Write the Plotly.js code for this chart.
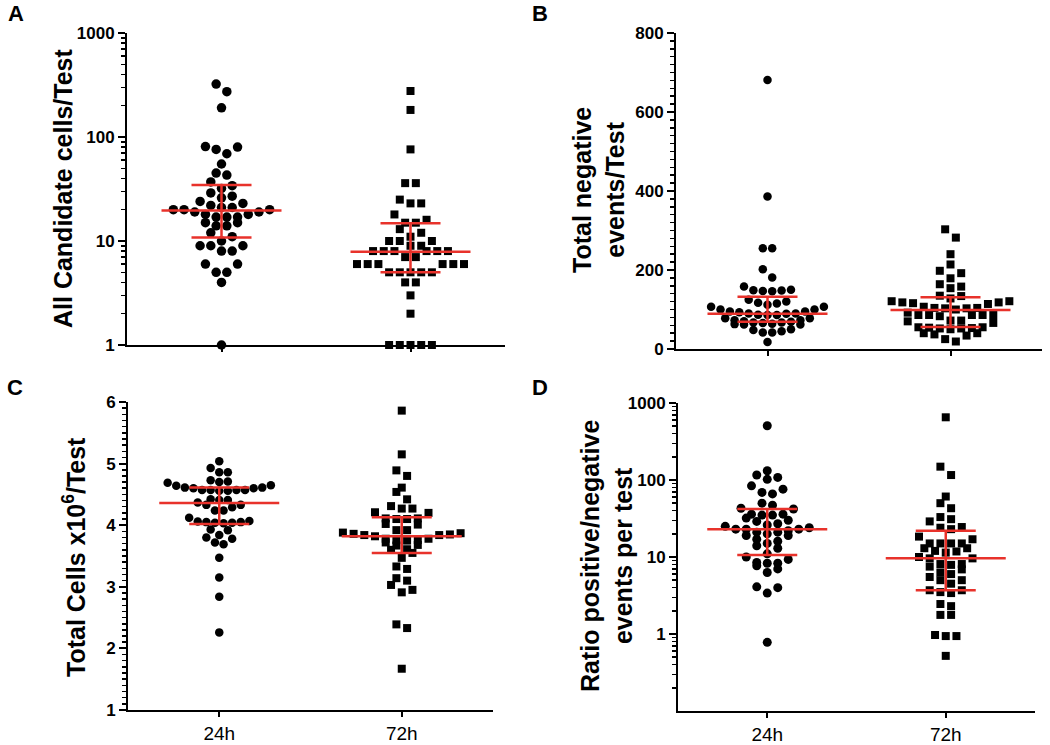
<!DOCTYPE html>
<html>
<head>
<meta charset="utf-8">
<script src="https://cdn.plot.ly/plotly-3.0.1.min.js"></script>
<style>
  body { margin: 0; background: #fff; }
  #chart { width: 1050px; height: 745px; }
</style>
</head>
<body>
<div id="chart"></div>
<script>
// groups on the x axis
const groups = ['24h', '72h']

// A: all candidate cells per test (log axis)
const candidates24 = [323, 273, 191, 81, 76, 80, 69, 55, 45, 43, 37, 32, 34, 29, 27, 26, 24, 23, 21, 20, 20, 20, 21, 22,
  19, 19, 18, 18, 17, 17, 17, 15, 15, 14, 14, 12, 11, 10, 9, 9, 9, 8, 8, 6, 6, 5, 5, 4, 1]
const candidates72 = [277, 182, 76, 36, 36, 25, 23, 23, 18, 16, 15, 15, 13, 12, 11, 10, 10, 10, 9, 9,
  8, 8, 8, 8, 8, 8, 7, 7, 6, 6, 6, 6, 6, 6, 5, 5, 5, 5, 5, 4, 4, 3, 2, 1, 1, 1, 1, 1]
const candidatesMedian = [19.7, 7.9]
const candidatesQ1 = [10.8, 5.0]
const candidatesQ3 = [34.5, 14.8]

// B: total negative events per test
const negative24 = [681, 386, 255, 255, 202, 181, 158, 150, 148, 147, 149, 146, 125, 120, 117, 112, 115,
  107, 100, 95, 90, 87, 86, 86, 90, 89, 93, 95, 100, 107, 78, 73, 70, 67, 64, 62, 62, 63, 66, 67, 69, 73, 78,
  50, 48, 45, 42, 42, 18]
const negative72 = [303, 282, 240, 214, 198, 192, 179, 164, 154, 158, 134, 135, 121, 118, 116, 114, 118, 121, 128,
  104, 103, 100, 103, 104, 107, 86, 86, 83, 86, 86, 86, 92, 72, 66, 70, 72, 54, 52, 50, 52, 53, 55, 55,
  40, 34, 37, 40, 19, 25]
const negativeMedian = [89, 99]
const negativeQ1 = [69, 56]
const negativeQ3 = [132, 131]

// C: total cells x10^6 per test
const cells24 = [5.04, 4.93, 4.86, 4.86, 4.73, 4.70, 4.69, 4.64, 4.61, 4.60, 4.57, 4.57, 4.56, 4.56, 4.57, 4.57,
  4.60, 4.61, 4.65, 4.71, 4.41, 4.41, 4.42, 4.37, 4.33, 4.33, 4.29, 4.24, 4.24, 4.12, 4.06, 4.05, 4.04, 4.03,
  4.04, 4.05, 4.07, 3.93, 3.92, 3.84, 3.78, 3.80, 3.72, 3.69, 3.47, 3.15, 2.84, 2.26]
const cells72 = [5.86, 5.15, 4.89, 4.80, 4.61, 4.54, 4.42, 4.27, 4.27, 4.31, 4.21, 4.20, 4.11, 4.10, 4.10, 4.11,
  4.02, 4.01, 3.92, 3.92, 3.88, 3.84, 3.82, 3.85, 3.86, 3.87, 3.78, 3.76, 3.75, 3.76, 3.78, 3.68, 3.67, 3.61,
  3.60, 3.55, 3.47, 3.33, 3.29, 3.14, 3.03, 3.10, 2.91, 2.95, 2.39, 2.33, 1.67, 3.84, 3.72]
const cellsMedian = [4.36, 3.82]
const cellsQ1 = [4.02, 3.55]
const cellsQ3 = [4.61, 4.13]

// D: ratio positive/negative events per test (log axis)
const ratio24 = [507, 132, 108, 102, 116, 84, 76, 66, 69, 50, 47, 43, 42, 36, 35, 35, 36, 32, 29, 30, 27, 25, 23,
  23, 21, 20, 22, 21, 23, 24, 26, 19, 19, 17, 16, 15, 13, 14, 11, 10, 9.3, 8.3, 8.3, 8.5, 7.7, 7, 6.3, 4.0, 4.1,
  3.4, 0.78]
const ratio72 = [652, 149, 116, 61, 50, 43, 33, 31, 29, 24.5, 23, 24, 18.4, 17, 15, 15, 15, 15, 13, 13, 11.4,
  11.8, 10, 9.6, 8.1, 7.9, 8.1, 6.9, 6.3, 6.0, 5.5, 5.0, 5.0, 4.5, 3.7, 3.7, 3.4, 3.5, 2.45, 2.3, 1.77, 1.77,
  0.94, 0.94, 0.97, 0.52, 9.6, 7.5, 12]
const ratioMedian = [22.9, 9.6]
const ratioQ1 = [10.6, 3.7]
const ratioQ3 = [42, 22]


const W = 1050
const H = 745
const FONT = 'Liberation Sans, Arial, sans-serif'
const RED = '#e8322b'

const panels = [
  { letter: 'A', box: [127, 505, 33, 345], log: true, range: [0, 3],
    series: [candidates24, candidates72], med: candidatesMedian, q1: candidatesQ1, q3: candidatesQ3,
    size: [9.5, 8], gap: [10.7, 10.7], labels: false,
    tickvals: [1, 10, 100, 1000] },
  { letter: 'B', box: [676, 1042, 33, 349], log: false, range: [0, 800],
    series: [negative24, negative72], med: negativeMedian, q1: negativeQ1, q3: negativeQ3,
    size: [8.5, 8], gap: [9.4, 10.7], labels: false, dtick: 200, minor: 20 },
  { letter: 'C', box: [128, 493, 402, 710], log: false, range: [1, 6],
    series: [cells24, cells72], med: cellsMedian, q1: cellsQ1, q3: cellsQ3,
    size: [8.5, 8], gap: [8.6, 10.7], labels: true, dtick: 1, minor: 0.1 },
  { letter: 'D', box: [678, 1035, 403, 711], log: true, range: [-1, 3],
    series: [ratio24, ratio72], med: ratioMedian, q1: ratioQ1, q3: ratioQ3,
    size: [9, 8], gap: [10.5, 10.7], labels: true,
    tickvals: [1, 10, 100, 1000] },
]

// prism-like dot arrangement: points close in value share a row, centred on the group
const swarm = (vals, toPx, gapPx, binPx, pxPerUnit) => {
  const order = vals.map((v, i) => i).sort((a, b) => toPx(vals[a]) - toPx(vals[b]))
  const off = new Array(vals.length).fill(0)
  let bin = []
  let start = 0
  const flush = () => {
    const n = bin.length
    const slots = []
    for (let k = 0; k < n; k++) slots.push(k - (n - 1) / 2)
    slots.sort((a, b) => Math.abs(a) - Math.abs(b) || b - a)
    bin.sort((a, b) => vals[a] - vals[b])
    bin.forEach((id, j) => { off[id] = slots[j] * gapPx / pxPerUnit })
    bin = []
  }
  order.forEach(id => {
    const p = toPx(vals[id])
    if (bin.length && p - start > binPx) flush()
    if (!bin.length) start = p
    bin.push(id)
  })
  flush()
  return off
}

const data = []
const layout = {
  width: W,
  height: H,
  margin: { l: 0, r: 0, t: 0, b: 0 },
  paper_bgcolor: '#fff',
  plot_bgcolor: '#fff',
  showlegend: false,
  annotations: [],
}

const titles = [
  'All Candidate cells/Test',
  'Total negative<br>events/Test',
  'Total Cells x10<sup>6</sup>/Test',
  'Ratio positive/negative<br>events per test',
]
const titlePos = [[63, 189], [598, 190], [74, 557], [606, 556]]
const letterPos = [[16, 14], [540, 14], [15, 388], [540, 388]]

panels.forEach((p, i) => {
  const n = i + 1
  const sfx = n === 1 ? '' : String(n)
  const [x0, x1, y0, y1] = p.box
  const plotW = x1 - x0
  const plotH = y1 - y0
  const pxPerUnit = plotW / 2
  const toPx = v => ((p.log ? Math.log10(v) : v) - p.range[0]) / (p.range[1] - p.range[0]) * plotH

  p.series.forEach((vals, g) => {
    const off = swarm(vals, toPx, p.gap[g], 8.5, pxPerUnit)
    data.push({
      type: 'scatter',
      mode: 'markers',
      x: vals.map((v, k) => g + off[k]),
      y: vals,
      xaxis: 'x' + sfx,
      yaxis: 'y' + sfx,
      cliponaxis: false,
      marker: { symbol: g === 0 ? 'circle' : 'square', size: p.size[g], color: '#000' },
      hoverinfo: 'y',
    })
  })

  // median and interquartile range
  const medHalf = 60 / pxPerUnit
  const capHalf = 30 / pxPerUnit
  groups.forEach((name, g) => {
    const lines = [
      [[g - medHalf, g + medHalf], [p.med[g], p.med[g]]],
      [[g - capHalf, g + capHalf], [p.q1[g], p.q1[g]]],
      [[g - capHalf, g + capHalf], [p.q3[g], p.q3[g]]],
      [[g, g], [p.q1[g], p.q3[g]]],
    ]
    lines.forEach(([lx, ly]) => {
      data.push({
        type: 'scatter', mode: 'lines', x: lx, y: ly,
        xaxis: 'x' + sfx, yaxis: 'y' + sfx,
        line: { color: RED, width: 2.5 },
        hoverinfo: 'skip',
      })
    })
  })

  layout['xaxis' + sfx] = {
    domain: [x0 / W, x1 / W],
    anchor: 'y' + sfx,
    range: [-0.5, 1.5],
    tickmode: 'array',
    tickvals: [0, 1],
    ticktext: groups,
    showticklabels: p.labels,
    tickfont: { family: FONT, size: 19, color: '#000' },
    ticks: 'outside', ticklen: 5, tickwidth: 2, tickcolor: '#000',
    showline: true, linewidth: 2, linecolor: '#000',
    showgrid: false, zeroline: false, fixedrange: true,
  }

  const minorVals = []
  if (p.log) {
    for (let d = p.range[0]; d < p.range[1]; d++) {
      for (let k = 2; k <= 9; k++) minorVals.push(k * Math.pow(10, d))
    }
  }
  const yax = {
    domain: [1 - y1 / H, 1 - y0 / H],
    anchor: 'x' + sfx,
    type: p.log ? 'log' : 'linear',
    range: p.range,
    tickfont: { family: FONT, size: 17, color: '#000', weight: 'bold' },
    ticks: 'outside', ticklen: 7, tickwidth: 2, tickcolor: '#000',
    showline: true, linewidth: 2, linecolor: '#000',
    showgrid: false, zeroline: false, fixedrange: true,
  }
  const minorStyle = { ticks: 'outside', ticklen: 4, tickwidth: 1.5, tickcolor: '#000' }
  if (p.log) {
    yax.tickmode = 'array'
    yax.tickvals = p.tickvals
    yax.ticktext = p.tickvals.map(String)
    yax.minor = Object.assign({ tickmode: 'array', tickvals: minorVals }, minorStyle)
  } else {
    yax.tickmode = 'linear'
    yax.tick0 = p.range[0]
    yax.dtick = p.dtick
    yax.minor = Object.assign({ dtick: p.minor }, minorStyle)
  }
  layout['yaxis' + sfx] = yax

  layout.annotations.push({
    text: titles[i], xref: 'paper', yref: 'paper',
    x: titlePos[i][0] / W, y: 1 - titlePos[i][1] / H,
    xanchor: 'center', yanchor: 'middle', textangle: -90, showarrow: false,
    font: { family: FONT, size: 25, color: '#000', weight: 'bold' },
  })
  layout.annotations.push({
    text: p.letter, xref: 'paper', yref: 'paper',
    x: letterPos[i][0] / W, y: 1 - letterPos[i][1] / H,
    xanchor: 'center', yanchor: 'middle', showarrow: false,
    font: { family: FONT, size: 22, color: '#000', weight: 'bold' },
  })
})

Plotly.newPlot('chart', data, layout, { displayModeBar: false, staticPlot: true })
</script>
</body>
</html>
